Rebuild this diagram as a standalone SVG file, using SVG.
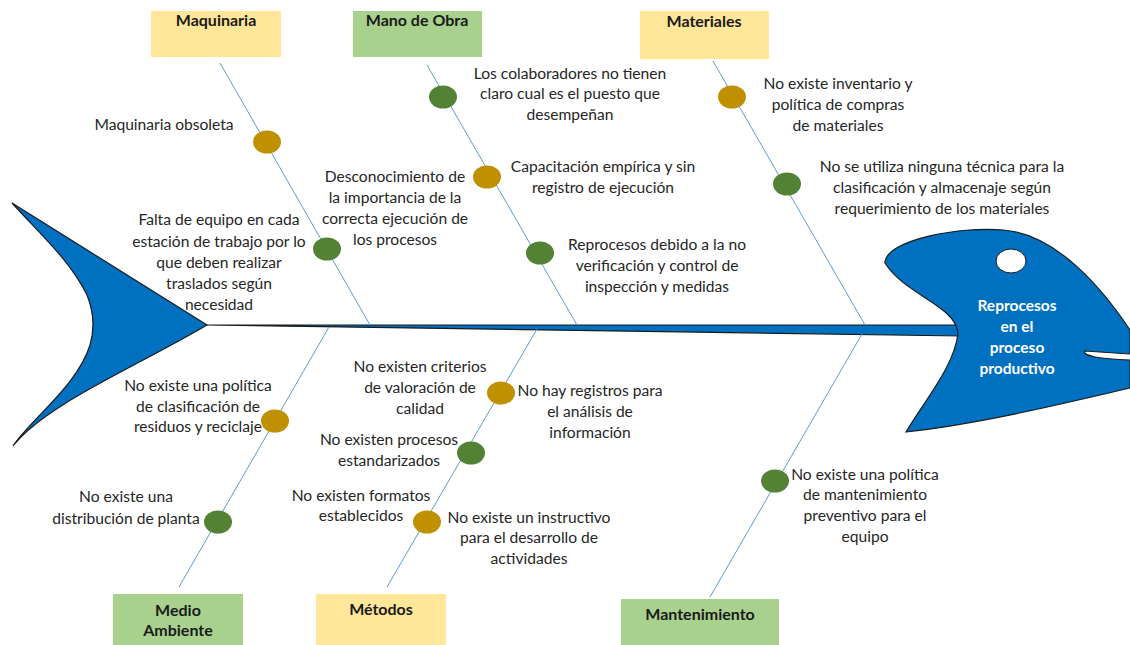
<svg xmlns="http://www.w3.org/2000/svg" width="1130" height="645" viewBox="0 0 1130 645">
  <style>
    .cat-y { fill: #ffe699; }
    .cat-g { fill: #a9d18e; }
    .cat-t { font-family: Lato, "Liberation Sans", sans-serif; font-size: 16px; font-weight: bold; fill: #1a1a1a; text-anchor: middle; }
    .lbl { font-family: Lato, "Liberation Sans", sans-serif; font-size: 15.6px; fill: #262626; text-anchor: middle; }
    .bone { stroke: #5b9bd5; stroke-width: 1; fill: none; }
    .dot-g { fill: #548235; }
    .dot-o { fill: #bf9000; }
    .fish { fill: #0070c0; stroke: #1a1a1a; stroke-width: 1.2; }
    .head-t { font-family: Lato, "Liberation Sans", sans-serif; font-size: 15.5px; font-weight: bold; fill: #ffffff; text-anchor: middle; }
  </style>

  <rect width="1130" height="645" fill="#ffffff"/>

  <!-- fish body: tail, spine, head -->
  <g id="tail">
    <path class="fish" d="M 12,203 L 207,325 C 130,370 45,405 13,446 C 30,420 78,385 90,345 C 95,328 93,310 87,295 C 70,260 38,232 12,203 Z"/>
  </g>
  <g id="spine">
    <path class="fish" d="M 207,325 L 962,325 L 962,336 Z"/>
  </g>
  <g id="head">
    <path class="fish" d="M 885,263 C 885,240 960,226 1003,230 C 1055,234 1100,285 1130,330 L 1130,354 L 1085,351 C 1082,356 1100,359 1130,360 L 1130,388 C 1070,402 980,424 906,432 C 925,400 955,365 958,333 C 955,305 905,295 885,263 Z"/>
    <ellipse cx="1011" cy="261" rx="15" ry="12" fill="#ffffff" stroke="#1a1a1a" stroke-width="1"/>
    <text class="head-t" x="1017" y="311">Reprocesos</text>
    <text class="head-t" x="1017" y="332">en el</text>
    <text class="head-t" x="1017" y="353">proceso</text>
    <text class="head-t" x="1017" y="374">productivo</text>
  </g>

  <!-- bones -->
  <g id="connectors">
    <line class="bone" x1="220" y1="63" x2="370" y2="325"/>
    <line class="bone" x1="427" y1="65" x2="577" y2="325"/>
    <line class="bone" x1="713" y1="61" x2="865" y2="325"/>
    <line class="bone" x1="179" y1="587" x2="329" y2="327"/>
    <line class="bone" x1="387" y1="587" x2="537" y2="329"/>
    <line class="bone" x1="710" y1="597" x2="862" y2="334"/>
  </g>

  <!-- category boxes -->
  <g id="cat-maquinaria">
    <rect class="cat-y" x="151" y="11" width="130" height="46"/>
    <text class="cat-t" x="216" y="26">Maquinaria</text>
  </g>
  <g id="cat-mano-de-obra">
    <rect class="cat-g" x="353" y="11" width="129" height="46"/>
    <text class="cat-t" x="417" y="26">Mano de Obra</text>
  </g>
  <g id="cat-materiales">
    <rect class="cat-y" x="640" y="11" width="129" height="48"/>
    <text class="cat-t" x="704" y="27">Materiales</text>
  </g>
  <g id="cat-medio-ambiente">
    <rect class="cat-g" x="113" y="594" width="130" height="51"/>
    <text class="cat-t" x="178" y="616">Medio</text>
    <text class="cat-t" x="178" y="636">Ambiente</text>
  </g>
  <g id="cat-metodos">
    <rect class="cat-y" x="316" y="594" width="130" height="51"/>
    <text class="cat-t" x="381" y="615">Métodos</text>
  </g>
  <g id="cat-mantenimiento">
    <rect class="cat-g" x="621" y="599" width="158" height="46"/>
    <text class="cat-t" x="700" y="620">Mantenimiento</text>
  </g>

  <!-- causes -->
  <g id="c-maq-1">
    <ellipse class="dot-o" cx="267" cy="142" rx="14" ry="11.5"/>
    <text class="lbl" x="164" y="130">Maquinaria obsoleta</text>
  </g>
  <g id="c-maq-2">
    <ellipse class="dot-g" cx="327" cy="249" rx="14" ry="11.5"/>
    <text class="lbl" x="219" y="225">Falta de equipo en cada</text>
    <text class="lbl" x="219" y="247">estación de trabajo por lo</text>
    <text class="lbl" x="219" y="268">que deben realizar</text>
    <text class="lbl" x="219" y="289">traslados según</text>
    <text class="lbl" x="219" y="310">necesidad</text>
  </g>
  <g id="c-mo-1">
    <ellipse class="dot-g" cx="443" cy="97" rx="14" ry="11.5"/>
    <text class="lbl" x="570" y="79">Los colaboradores no tienen</text>
    <text class="lbl" x="570" y="99">claro cual es el puesto que</text>
    <text class="lbl" x="570" y="120">desempeñan</text>
  </g>
  <g id="c-mo-2">
    <ellipse class="dot-o" cx="487" cy="177" rx="14" ry="11.5"/>
    <text class="lbl" x="603" y="172">Capacitación empírica y sin</text>
    <text class="lbl" x="603" y="193">registro de ejecución</text>
  </g>
  <g id="c-mo-3">
    <text class="lbl" x="395" y="182">Desconocimiento de</text>
    <text class="lbl" x="395" y="203">la importancia de la</text>
    <text class="lbl" x="395" y="224">correcta ejecución de</text>
    <text class="lbl" x="395" y="245">los procesos</text>
  </g>
  <g id="c-mo-4">
    <ellipse class="dot-g" cx="540" cy="253" rx="14" ry="11.5"/>
    <text class="lbl" x="657" y="250">Reprocesos debido a la no</text>
    <text class="lbl" x="657" y="271">verificación y control de</text>
    <text class="lbl" x="657" y="292">inspección y medidas</text>
  </g>
  <g id="c-mat-1">
    <ellipse class="dot-o" cx="732" cy="97" rx="14" ry="11.5"/>
    <text class="lbl" x="838" y="89">No existe inventario y</text>
    <text class="lbl" x="838" y="110">política de compras</text>
    <text class="lbl" x="838" y="131">de materiales</text>
  </g>
  <g id="c-mat-2">
    <ellipse class="dot-g" cx="787" cy="184" rx="14" ry="11.5"/>
    <text class="lbl" x="942" y="172">No se utiliza ninguna técnica para la</text>
    <text class="lbl" x="942" y="193">clasificación y almacenaje según</text>
    <text class="lbl" x="942" y="214">requerimiento de los materiales</text>
  </g>
  <g id="c-ma-1">
    <ellipse class="dot-o" cx="275" cy="421" rx="14" ry="11.5"/>
    <text class="lbl" x="198" y="391">No existe una política</text>
    <text class="lbl" x="198" y="412">de clasificación de</text>
    <text class="lbl" x="198" y="432">residuos y reciclaje</text>
  </g>
  <g id="c-ma-2">
    <ellipse class="dot-g" cx="218" cy="522" rx="14" ry="11.5"/>
    <text class="lbl" x="126" y="502">No existe una</text>
    <text class="lbl" x="126" y="524">distribución de planta</text>
  </g>
  <g id="c-met-1">
    <text class="lbl" x="420" y="372">No existen criterios</text>
    <text class="lbl" x="420" y="393">de valoración de</text>
    <text class="lbl" x="420" y="414">calidad</text>
  </g>
  <g id="c-met-2">
    <ellipse class="dot-o" cx="501" cy="393" rx="14" ry="11.5"/>
    <text class="lbl" x="590" y="396">No hay registros para</text>
    <text class="lbl" x="590" y="417">el análisis de</text>
    <text class="lbl" x="590" y="438">información</text>
  </g>
  <g id="c-met-3">
    <ellipse class="dot-g" cx="471" cy="453" rx="14" ry="11.5"/>
    <text class="lbl" x="389" y="445">No existen procesos</text>
    <text class="lbl" x="389" y="466">estandarizados</text>
  </g>
  <g id="c-met-4">
    <ellipse class="dot-o" cx="427" cy="522" rx="14" ry="11.5"/>
    <text class="lbl" x="361" y="501">No existen formatos</text>
    <text class="lbl" x="361" y="521">establecidos</text>
  </g>
  <g id="c-met-5">
    <text class="lbl" x="529" y="523">No existe un instructivo</text>
    <text class="lbl" x="529" y="543">para el desarrollo de</text>
    <text class="lbl" x="529" y="564">actividades</text>
  </g>
  <g id="c-man-1">
    <ellipse class="dot-g" cx="775" cy="481" rx="14" ry="11.5"/>
    <text class="lbl" x="865" y="480">No existe una política</text>
    <text class="lbl" x="865" y="500">de mantenimiento</text>
    <text class="lbl" x="865" y="521">preventivo para el</text>
    <text class="lbl" x="865" y="542">equipo</text>
  </g>
</svg>
